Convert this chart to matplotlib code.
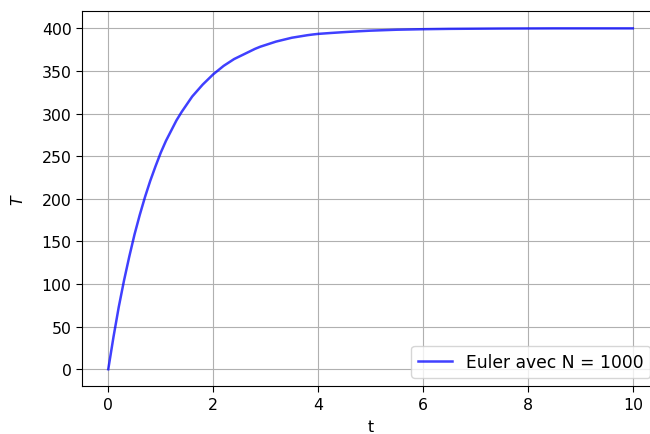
import matplotlib
matplotlib.use("Agg")
import matplotlib.pyplot as plt

# valeurs (Euler, N = 1000)
t = [0.0, 0.1, 0.2, 0.3, 0.4, 0.5, 0.6, 0.7, 0.8, 0.9,
     1.0, 1.1, 1.2, 1.3, 1.4, 1.5, 1.6, 1.7, 1.8, 1.9,
     2.0, 2.1, 2.2, 2.3, 2.4, 2.5, 2.6, 2.7, 2.8, 2.9,
     3.0, 3.1, 3.2, 3.3, 3.4, 3.5, 3.6, 3.7, 3.8, 3.9,
     4.0, 4.25, 4.5, 4.75, 5.0, 5.5, 6.0, 6.5, 7.0, 7.5,
     8.0, 8.5, 9.0, 9.5, 10.0]
T = [0, 38, 73, 104, 132, 158, 181, 202, 221, 238,
     254, 268, 280, 292, 302, 311, 320, 327, 334, 340,
     346, 351, 356, 360, 364, 367, 370, 373, 376, 378.5,
     380.5, 382.5, 384.5, 386, 387.5, 389, 390, 391, 392, 392.8,
     393.5, 394.6, 395.6, 396.5, 397.3, 398.4, 399, 399.4, 399.6, 399.8,
     399.9, 400, 400, 400, 400]

fig = plt.figure(figsize=(6.5, 4.35), dpi=100)
ax = fig.add_axes([0.1262, 0.1097, 0.8877, 0.862])

ax.plot(t, T, color="b", alpha=0.75, linewidth=1.8, label="Euler avec N = 1000")
ax.set_xlabel("t", fontsize=11.3, labelpad=5)
ax.set_ylabel("$T$", fontsize=11.3, labelpad=11)
ax.tick_params(labelsize=11.3, length=4)
ax.grid(True)
ax.legend(loc="lower right", fontsize=12.3)

fig.savefig("out.png", dpi=100)
